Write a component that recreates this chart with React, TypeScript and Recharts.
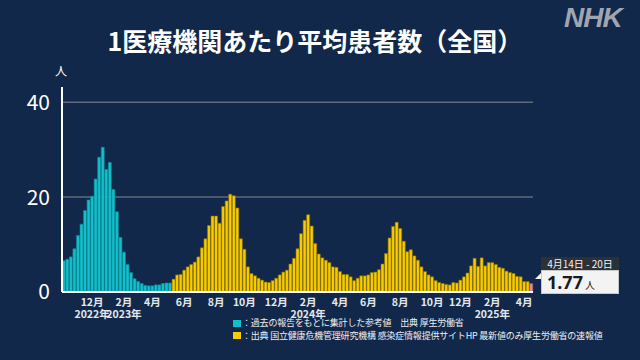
import React from "react";
import { BarChart, Bar, XAxis, YAxis, CartesianGrid, Cell } from "recharts";

// Week (Mon–Sun) of the first bar
const FIRST_WEEK_START = [2022, 9, 3]; // 2022-10-03 (UTC, month 0-based)

// Teal: 過去の報告をもとに集計した参考値 (2022-10-03 .. 2023-05-07)
const referenceValues = [
  6.6, 6.9, 7.4, 9.1, 11.9, 14.3, 17.2, 19.4, 20.2, 23.8,
  28.4, 30.5, 25.8, 27.3, 21.6, 16.9, 11.5, 8.4, 5.8, 4.1,
  2.8, 2.2, 1.8, 1.4, 1.3, 1.3, 1.5, 1.5, 1.8, 1.9, 1.9,
];

// Yellow: 定点把握 (2023-05-08 .. 2025-04-13)
const surveillanceValues = [
  2.7, 3.6, 3.7, 4.6, 5.3, 5.8, 6.3, 7.4, 9.3, 11.2, 14.0, 16.0, 16.0,
  14.5, 18.0, 19.2, 20.6, 20.3, 17.7, 11.2, 9.0, 5.3, 3.9, 3.4, 2.9, 2.5, 2.1, 2.0, 2.4, 2.9, 3.6, 4.2, 4.6, 5.9, 7.1, 9.1,
  12.3, 15.1, 16.3, 13.9, 10.2, 8.0, 7.2, 6.7, 6.2, 5.3, 5.2, 4.3, 3.7, 3.7, 3.2, 2.4, 2.9, 3.4, 3.4, 3.6, 4.1, 4.2, 4.7,
  5.9, 8.1, 11.4, 13.8, 14.7, 13.4, 10.7, 8.5, 8.9, 7.6, 6.7, 5.3, 4.3, 3.6, 3.2, 2.4, 2.0, 1.8, 1.6, 1.5, 2.0, 1.9,
  2.5, 3.2, 4.0, 5.5, 7.1, 5.4, 7.2, 5.5, 6.2, 6.2, 5.8, 5.2, 5.0, 4.4, 4.1, 3.9, 3.3, 3.2, 2.2, 2.2,
];

// Latest week (速報値)
const latestValue = 1.77;
const latestLabel = "4月14日 - 20日";

const yTicks = [0, 20, 40];
const yMax = 43.2;
const labelMonths = [2, 4, 6, 8, 10, 12];
const yearShownMonth = 2;

const title = "1医療機関あたり平均患者数（全国）";
const legendTeal = "：過去の報告をもとに集計した参考値　出典 厚生労働省";
const legendYellow = "：出典 国立健康危機管理研究機構 感染症情報提供サイトHP 最新値のみ厚生労働省の速報値";

const COLORS = {
  bg: "#12284a",
  teal: "#12bfcb",
  tealStroke: "#0b8893",
  yellow: "#f8cc00",
  yellowStroke: "#8a7000",
  pink: "#e88c9c",
  grid: "#5f6a7b",
  text: "#ffffff",
};

const FONT = "'Noto Sans CJK JP', 'Noto Sans', sans-serif";
const DAY = 86400000;

type Row = { key: string; value: number; kind: "ref" | "sur" | "latest" };

const allValues = [
  ...referenceValues.map((v) => ({ v, kind: "ref" as const })),
  ...surveillanceValues.map((v) => ({ v, kind: "sur" as const })),
  { v: latestValue, kind: "latest" as const },
];

const startMs = Date.UTC(FIRST_WEEK_START[0], FIRST_WEEK_START[1], FIRST_WEEK_START[2]);

const data: Row[] = allValues.map((d, i) => {
  const s = new Date(startMs + i * 7 * DAY);
  return { key: s.toISOString().slice(0, 10), value: d.v, kind: d.kind };
});

// month ticks: the week containing the 1st of an even month
const tickMap = new Map<string, { month: string; year?: string }>();
let firstTick = true;
data.forEach((row, i) => {
  const s = startMs + i * 7 * DAY;
  for (let k = 0; k < 7; k++) {
    const d = new Date(s + k * DAY);
    const m = d.getUTCMonth() + 1;
    if (d.getUTCDate() === 1 && labelMonths.includes(m)) {
      const showYear = firstTick || m === yearShownMonth;
      tickMap.set(row.key, {
        month: `${m}月`,
        year: showYear ? `${d.getUTCFullYear()}年` : undefined,
      });
      firstTick = false;
    }
  }
});

const MonthTick = (props: any) => {
  const { x, y, payload } = props;
  const t = tickMap.get(payload.value);
  if (!t) return <g />;
  return (
    <g>
      <text x={x} y={y + 14} textAnchor="middle" fill="#e4e8ee" fontSize={10.5} fontWeight={700} fontFamily={FONT}>
        {t.month}
      </text>
      {t.year && (
        <text x={x} y={y + 25.5} textAnchor="middle" fill="#e4e8ee" fontSize={10.5} fontWeight={700} fontFamily={FONT}>
          {t.year}
        </text>
      )}
    </g>
  );
};

const fillFor = (k: Row["kind"]) => (k === "ref" ? COLORS.teal : k === "sur" ? COLORS.yellow : COLORS.pink);
const strokeFor = (k: Row["kind"]) => (k === "ref" ? COLORS.tealStroke : k === "sur" ? COLORS.yellowStroke : "#a85a68");

export default function App() {
  return (
    <div
      style={{
        position: "fixed",
        left: 0,
        top: 0,
        width: 640,
        height: 360,
        background: COLORS.bg,
        overflow: "hidden",
        fontFamily: FONT,
      }}
    >
      <div
        style={{
          position: "absolute",
          left: 0,
          top: 27,
          width: 630,
          textAlign: "center",
          color: COLORS.text,
          fontSize: 25,
          lineHeight: "26px",
          fontWeight: 700,
          whiteSpace: "nowrap",
        }}
      >
        {title}
      </div>
      <div
        style={{
          position: "absolute",
          left: 564,
          top: 3,
          color: "#9ea6b2",
          fontSize: 28,
          lineHeight: "30px",
          fontWeight: 900,
          fontStyle: "italic",
          fontFamily: "'Liberation Sans', 'DejaVu Sans', sans-serif",
          letterSpacing: -1,
        }}
      >
        NHK
      </div>
      <div
        style={{
          position: "absolute",
          left: 55,
          top: 64,
          color: COLORS.text,
          fontSize: 12,
          lineHeight: "14px",
        }}
      >
        人
      </div>

      <div style={{ position: "absolute", left: 0, top: 0 }}>
        <BarChart
          width={640}
          height={360}
          data={data}
          margin={{ top: 87, right: 107, bottom: 0, left: 0 }}
          barCategoryGap="8%"
        >
          <CartesianGrid vertical={false} stroke={COLORS.grid} strokeWidth={1.5} horizontalValues={[20, 40]} />
          <YAxis
            width={62}
            domain={[0, yMax]}
            ticks={yTicks}
            allowDataOverflow
            tickLine={false}
            tickSize={0}
            tickMargin={12}
            axisLine={{ stroke: "#ffffff", strokeWidth: 2 }}
            tick={{ fill: "#ffffff", fontSize: 21, fontFamily: FONT }}
          />
          <XAxis
            dataKey="key"
            height={68}
            interval={0}
            tickLine={false}
            tickSize={0}
            tickMargin={0}
            axisLine={{ stroke: "#ffffff", strokeWidth: 2 }}
            tick={<MonthTick />}
          />
          <Bar dataKey="value" isAnimationActive={false} strokeWidth={0.6}>
            {data.map((d) => (
              <Cell key={d.key} fill={fillFor(d.kind)} stroke={strokeFor(d.kind)} />
            ))}
          </Bar>
        </BarChart>
      </div>

      {/* latest value callout */}
      <div
        style={{
          position: "absolute",
          left: 541,
          top: 257,
          width: 78,
          height: 13,
          background: "#2c3136",
          color: "#f2f2f2",
          fontSize: 10,
          lineHeight: "13px",
          textAlign: "center",
          whiteSpace: "nowrap",
        }}
      >
        {latestLabel}
      </div>
      <div
        style={{
          position: "absolute",
          left: 541,
          top: 270,
          width: 71,
          height: 22,
          background: "#f3f3f3",
          border: "1px solid #c8c8c8",
          color: "#1a1a1a",
          whiteSpace: "nowrap",
          lineHeight: "22px",
          paddingLeft: 5,
          boxSizing: "content-box",
        }}
      >
        <span style={{ fontSize: 18, fontWeight: 700, fontFamily: "'Noto Sans', sans-serif" }}>
          {latestValue.toFixed(2)}
        </span>
        <span style={{ fontSize: 10, marginLeft: 2 }}>人</span>
      </div>
      <svg style={{ position: "absolute", left: 534, top: 272 }} width={8} height={8}>
        <polygon points="1,7 7,1 7,7" fill="#f3f3f3" />
      </svg>

      {/* legend */}
      <div style={{ position: "absolute", left: 233, top: 320, width: 8, height: 7, background: COLORS.teal }} />
      <div
        style={{
          position: "absolute",
          left: 242,
          top: 317,
          color: "#eef0f3",
          fontSize: 9,
          lineHeight: "12px",
          letterSpacing: -0.2,
          whiteSpace: "nowrap",
        }}
      >
        {legendTeal}
      </div>
      <div style={{ position: "absolute", left: 233, top: 332, width: 8, height: 7, background: COLORS.yellow }} />
      <div
        style={{
          position: "absolute",
          left: 242,
          top: 329.5,
          color: "#eef0f3",
          fontSize: 9,
          lineHeight: "12px",
          letterSpacing: -0.2,
          whiteSpace: "nowrap",
        }}
      >
        {legendYellow}
      </div>
    </div>
  );
}
